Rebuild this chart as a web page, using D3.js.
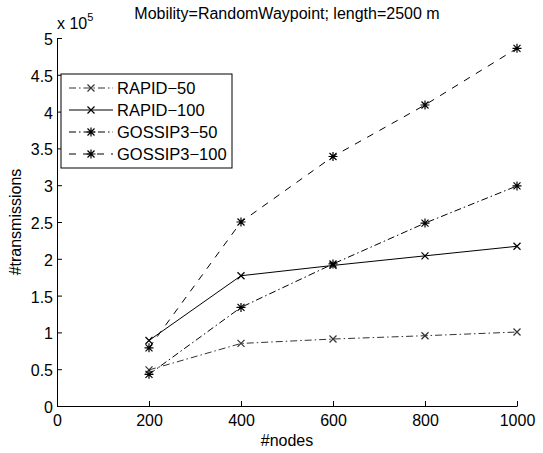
<!DOCTYPE html>
<html>
<head>
<meta charset="utf-8">
<script src="https://cdn.jsdelivr.net/npm/d3@7"></script>
<style>
  body { margin: 0; background: #fff; }
  svg { display: block; font-family: "Liberation Sans", Arial, sans-serif; }
</style>
</head>
<body>
<svg id="chart" width="543" height="453"></svg>
<script>
// data (y values in units of 1e5)
const nodes = [200, 400, 600, 800, 1000];
const rapid50 = [0.49, 0.85, 0.91, 0.955, 1.005];
const rapid100 = [0.89, 1.77, 1.91, 2.04, 2.17];
const gossip50 = [0.43, 1.34, 1.93, 2.485, 2.99];
const gossip100 = [0.79, 2.5, 3.39, 4.09, 4.86];
const xTicks = [0, 200, 400, 600, 800, 1000];
const yTicks = [0, 0.5, 1, 1.5, 2, 2.5, 3, 3.5, 4, 4.5, 5];

const series = [
    { name: "RAPID\u221250", values: rapid50, dash: "7,3,1.5,3", marker: "x", stroke: "#333" },
    { name: "RAPID\u2212100", values: rapid100, dash: null, marker: "x", stroke: "#000" },
    { name: "GOSSIP3\u221250", values: gossip50, dash: "7,3,1.5,3", marker: "star", stroke: "#000" },
    { name: "GOSSIP3\u2212100", values: gossip100, dash: "7,7", marker: "star", stroke: "#000" }
];

const svg = d3.select("#chart");
const margin = { top: 38, right: 26, bottom: 47, left: 57 };
const width = 543, height = 453;

const x = d3.scaleLinear().domain([0, 1000]).range([margin.left, width - margin.right]);
const y = d3.scaleLinear().domain([0, 5]).range([height - margin.bottom, margin.top]);

// axes, ticks inside like matlab
const xAxis = svg.append("g")
    .attr("transform", `translate(0, ${y(0)})`)
    .call(d3.axisBottom(x).tickValues(xTicks).tickFormat(d => d)
        .tickSizeInner(-5).tickSizeOuter(0).tickPadding(9));
const yAxis = svg.append("g")
    .attr("transform", `translate(${x(0)}, 0)`)
    .call(d3.axisLeft(y).tickValues(yTicks).tickFormat(d => d)
        .tickSizeInner(-5).tickSizeOuter(0).tickPadding(4));

[xAxis, yAxis].forEach(g => {
    g.select(".domain").attr("stroke", "#000").attr("stroke-width", 1);
    g.selectAll(".tick line").attr("stroke", "#000");
    g.selectAll(".tick text").attr("fill", "#000").style("font-size", "16px");
});
yAxis.selectAll(".tick text").attr("dy", "0.4em");

// lines
const line = d3.line()
    .x((d, i) => x(nodes[i]))
    .y(d => y(d));

function drawMarker(g, type, cx, cy, color) {
    const s = 3.5;
    let p = `M${cx - s},${cy - s}L${cx + s},${cy + s}M${cx - s},${cy + s}L${cx + s},${cy - s}`;
    if (type === "star") {
        const t = 4.5;
        p += `M${cx - t},${cy}L${cx + t},${cy}M${cx},${cy - t}L${cx},${cy + t}`;
    }
    g.append("path").attr("d", p).attr("stroke", color).attr("stroke-width", 1.2).attr("fill", "none");
}

series.forEach(s => {
    svg.append("path")
        .datum(s.values)
        .attr("fill", "none")
        .attr("stroke", s.stroke)
        .attr("stroke-width", 1)
        .attr("stroke-dasharray", s.dash)
        .attr("d", line);
    const g = svg.append("g");
    s.values.forEach((v, i) => drawMarker(g, s.marker, x(nodes[i]), y(v), s.stroke));
});

// legend
const lg = svg.append("g").attr("transform", "translate(61, 74)");
lg.append("rect").attr("width", 171).attr("height", 94)
    .attr("fill", "#fff").attr("stroke", "#000").attr("stroke-width", 1);
series.forEach((s, i) => {
    const ly = 14 + i * 22;
    lg.append("line").attr("x1", 8).attr("x2", 52).attr("y1", ly).attr("y2", ly)
        .attr("stroke", s.stroke).attr("stroke-dasharray", s.dash);
    drawMarker(lg, s.marker, 30, ly, s.stroke);
    lg.append("text").attr("x", 56).attr("y", ly).attr("dy", "0.36em")
        .style("font-size", "16.5px").text(s.name);
});

// labels
svg.append("text").attr("x", (x(0) + x(1000)) / 2).attr("y", 19)
    .attr("text-anchor", "middle").style("font-size", "16px")
    .text("Mobility=RandomWaypoint; length=2500 m");
svg.append("text").attr("x", (x(0) + x(1000)) / 2).attr("y", 446)
    .attr("text-anchor", "middle").style("font-size", "16px").text("#nodes");
svg.append("text")
    .attr("transform", `translate(21, ${(y(0) + y(5)) / 2}) rotate(-90)`)
    .attr("text-anchor", "middle").style("font-size", "16px").text("#transmissions");
const ex = svg.append("text").attr("x", 57).attr("y", 29).style("font-size", "16px");
ex.append("tspan").text("x 10");
ex.append("tspan").attr("dy", -8).style("font-size", "11px").text("5");
</script>
</body>
</html>
